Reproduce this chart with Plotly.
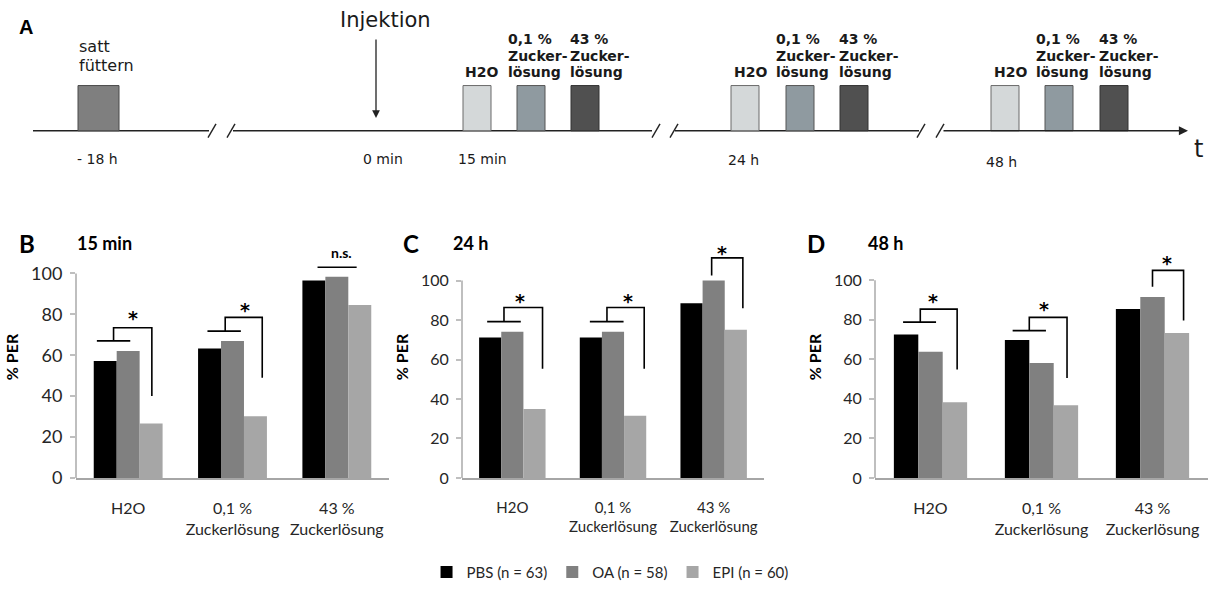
import plotly.graph_objects as go

# ---------------- data ----------------
categories = ["H2O", "0,1 %<br>Zuckerlösung", "43 %<br>Zuckerlösung"]
series_names = ["PBS (n = 63)", "OA (n = 58)", "EPI (n = 60)"]
series_colors = ["#000000", "#808080", "#a6a6a6"]

per_15min = {"PBS": [57.2, 63.3, 96.5], "OA": [62.0, 67.0, 98.4], "EPI": [26.6, 30.1, 84.6]}
per_24h = {"PBS": [71.1, 71.1, 88.5], "OA": [74.1, 74.1, 100.0], "EPI": [34.9, 31.5, 75.1]}
per_48h = {"PBS": [72.6, 69.8, 85.4], "OA": [63.8, 58.2, 91.5], "EPI": [38.3, 36.7, 73.3]}

y_ticks = [0, 20, 40, 60, 80, 100]

# timeline (panel A) labels
timeline_labels = ["- 18 h", "0 min", "15 min", "24 h", "48 h"]
stimulus_labels = ["H2O", "0,1 %", "43 %"]

W, H = 1208, 600


def X(px):
    return px / W


def Y(py):
    return 1 - py / H


fig = go.Figure()

panels = [
    dict(data=per_15min, xa="x", ya="y", dom=[76, 389], rng=118.3, letter="B", letter_x=17, title="15 min",
         title_x=75, fsize=16, ysize=18),
    dict(data=per_24h, xa="x2", ya="y2", dom=[462, 764], rng=122.6, letter="C", letter_x=401, title="24 h",
         title_x=451, fsize=15, ysize=16),
    dict(data=per_48h, xa="x3", ya="y3", dom=[875, 1208], rng=122.4, letter="D", letter_x=805, title="48 h",
         title_x=866, fsize=16, ysize=16),
]

keys = ["PBS", "OA", "EPI"]
for pi, p in enumerate(panels):
    for k, name, col in zip(keys, series_names, series_colors):
        fig.add_trace(go.Bar(
            x=categories, y=p["data"][k], name=name, marker=dict(color=col, line=dict(width=0)),
            xaxis=p["xa"], yaxis=p["ya"], showlegend=(pi == 0), offsetgroup=k,
        ))

layout = dict(
    width=W, height=H, margin=dict(l=0, r=0, t=0, b=0),
    paper_bgcolor="white", plot_bgcolor="white",
    barmode="group", bargap=0.34, bargroupgap=0,
    font=dict(family="Lato", color="#262626"),
    showlegend=True,
    legend=dict(orientation="h", x=0.505, xanchor="center", y=Y(582), yanchor="middle",
                font=dict(family="Lato", size=15, color="#262626"), itemsizing="constant",
                itemwidth=30, tracegroupgap=0),
)

ydom = [Y(486), Y(240)]
for i, p in enumerate(panels):
    sfx = "" if i == 0 else str(i + 1)
    layout["xaxis" + sfx] = dict(
        domain=[X(p["dom"][0]), min(1.0, X(p["dom"][1]))], anchor="y" + sfx,
        type="category", range=[-0.5, 2.5], showline=True, linecolor="#a6a6a6", linewidth=1.5,
        ticks="", showgrid=False, zeroline=False,
        tickfont=dict(family="Lato", size=p["fsize"], color="#262626"), ticklabelstandoff=15,
    )
    layout["yaxis" + sfx] = dict(
        domain=ydom, anchor="x" + sfx, range=[0, p["rng"]], showline=False,
        tickvals=y_ticks, ticks="outside", ticklen=5, tickcolor="#bfbfbf", tickwidth=1.5,
        showgrid=False, zeroline=False,
        tickfont=dict(family="Lato", size=p["ysize"], color="#262626"), ticklabelstandoff=4,
        title=dict(text="<b>% PER</b>", font=dict(family="Lato", size=16, color="#000"), standoff=8),
    )
fig.update_layout(**layout)

shapes = []
annotations = []

# y-axis lines (0..100) for bar panels
for i, p in enumerate(panels):
    sfx = "" if i == 0 else str(i + 1)
    shapes.append(dict(type="line", xref="x" + sfx + " domain", yref="y" + sfx, x0=0, x1=0, y0=0, y1=100,
                       line=dict(color="#bfbfbf", width=2)))

# significance brackets: (panel, category index, base y, base x0, base x1, mid x, top y, right x, bottom y, star x, star y)
brackets = [
    (0, 0, 67.0, -0.30, 0.02, -0.14, 73.4, 0.227, 40.0, 0.048, 80.0),
    (0, 1, 71.8, -0.24, 0.08, -0.07, 78.5, 0.285, 49.0, 0.12, 84.0),
    (1, 0, 79.2, -0.25, 0.084, -0.083, 86.4, 0.30, 55.3, 0.077, 91.8),
    (1, 1, 79.2, -0.23, 0.105, -0.06, 86.4, 0.31, 55.3, 0.15, 91.8),
    (2, 0, 78.8, -0.247, 0.05, -0.092, 85.4, 0.24, 54.9, 0.027, 91.7),
    (2, 1, 74.5, -0.26, 0.04, -0.11, 81.2, 0.23, 50.6, 0.024, 87.6),
]
# two-bar brackets: (panel, cat, left x, left bottom y, top y, right x, right bottom y, star x, star y)
brackets2 = [
    (1, 2, -0.02, 102.6, 111.5, 0.29, 86.0, 0.087, 115.9),
    (2, 2, 0.0, 96.7, 105.0, 0.28, 79.6, 0.135, 111.0),
]
bl = dict(color="#000000", width=1.6)
star_font = dict(family="DejaVu Sans", size=19, color="#000000")
for (pi, c, by, bx0, bx1, mx, ty, rx, ry, sx, sy) in brackets:
    sfx = "" if pi == 0 else str(pi + 1)
    xr, yr = "x" + sfx, "y" + sfx
    path = (f"M{c+bx0},{by} L{c+bx1},{by} M{c+mx},{by} L{c+mx},{ty} L{c+rx},{ty} L{c+rx},{ry}")
    shapes.append(dict(type="path", xref=xr, yref=yr, path=path, line=bl))
    annotations.append(dict(x=c + sx, y=sy, xref=xr, yref=yr, text="<b>*</b>", showarrow=False,
                            font=star_font, yshift=-4))
for (pi, c, lx, ly, ty, rx, ry, sx, sy) in brackets2:
    sfx = "" if pi == 0 else str(pi + 1)
    xr, yr = "x" + sfx, "y" + sfx
    path = f"M{c+lx},{ly} L{c+lx},{ty} L{c+rx},{ty} L{c+rx},{ry}"
    shapes.append(dict(type="path", xref=xr, yref=yr, path=path, line=bl))
    annotations.append(dict(x=c + sx, y=sy, xref=xr, yref=yr, text="<b>*</b>", showarrow=False,
                            font=star_font, yshift=-4))
# n.s. line in panel B
shapes.append(dict(type="line", xref="x", yref="y", x0=2 - 0.185, x1=2 + 0.19, y0=103, y1=103, line=bl))
annotations.append(dict(x=2.045, y=110, xref="x", yref="y", text="<b>n.s.</b>", showarrow=False,
                        font=dict(family="Lato", size=14, color="#000")))

# panel letters and titles
for p in panels:
    annotations.append(dict(x=X(p["letter_x"]), y=Y(248), xref="paper", yref="paper", xanchor="left", yanchor="middle",
                            text=f"<b>{p['letter']}</b>", showarrow=False,
                            font=dict(family="Lato", size=24, color="#000")))
    annotations.append(dict(x=X(p["title_x"]), y=Y(247), xref="paper", yref="paper", xanchor="left", yanchor="middle",
                            text=f"<b>{p['title']}</b>", showarrow=False,
                            font=dict(family="Lato", size=18, color="#000")))

# ---------------- panel A: timeline ----------------
tl_y = 133
line_style = dict(color="#222222", width=1.4)
for x0, x1 in [(33, 209), (233, 652), (675, 919)]:
    shapes.append(dict(type="line", xref="paper", yref="paper", x0=X(x0), x1=X(x1), y0=Y(tl_y), y1=Y(tl_y),
                       line=line_style))
for sx in [208, 227, 652, 670, 917, 936]:
    shapes.append(dict(type="line", xref="paper", yref="paper", x0=X(sx), x1=X(sx + 8), y0=Y(140), y1=Y(126),
                       line=line_style))
# final arrow segment (tail offset in pixels)
annotations.append(dict(x=X(1188), y=Y(tl_y), ax=942 - 1188, ay=0, xref="paper", yref="paper",
                        axref="pixel", ayref="pixel", text="", showarrow=True, arrowhead=2, arrowsize=1.3,
                        arrowwidth=1.4, arrowcolor="#222222"))
# injection arrow
annotations.append(dict(x=X(376), y=Y(120), ax=0, ay=40 - 120, xref="paper", yref="paper",
                        axref="pixel", ayref="pixel", text="", showarrow=True, arrowhead=2, arrowsize=1.2,
                        arrowwidth=1.3, arrowcolor="#222222"))

box_top, box_bot = 87, 133
shapes.append(dict(type="rect", xref="paper", yref="paper", x0=X(78), x1=X(119), y0=Y(box_bot), y1=Y(box_top),
                   fillcolor="#7f7f7f", line=dict(color="#4a4a4a", width=1)))
box_fills = ["#d4d8d9", "#8f9aa0", "#505050"]
box_lines = ["#6a6a6a", "#555555", "#333333"]
groups = [
    dict(boxes=[463, 517, 571], labels=[463, 506, 568]),
    dict(boxes=[731, 786, 840], labels=[732, 774, 837]),
    dict(boxes=[991, 1045, 1100], labels=[992, 1034, 1097]),
]
lab_font = dict(family="DejaVu Sans", size=14, color="#1a1a1a")
for g in groups:
    for bx, fc, lc in zip(g["boxes"], box_fills, box_lines):
        shapes.append(dict(type="rect", xref="paper", yref="paper", x0=X(bx), x1=X(bx + 28),
                           y0=Y(box_bot), y1=Y(box_top), fillcolor=fc, line=dict(color=lc, width=1)))
    lx = g["labels"]
    annotations.append(dict(x=X(lx[0]), y=Y(73), xref="paper", yref="paper", xanchor="left", yanchor="middle",
                            text=f"<b>{stimulus_labels[0]}</b>", showarrow=False, font=lab_font))
    for j in (1, 2):
        for txt, yy in [(stimulus_labels[j], 40), ("Zucker-", 56.5), ("lösung", 73)]:
            annotations.append(dict(x=X(lx[j]), y=Y(yy), xref="paper", yref="paper", xanchor="left",
                                    yanchor="middle", text=f"<b>{txt}</b>", showarrow=False, font=lab_font))

time_font = dict(family="DejaVu Sans", size=14, color="#1a1a1a")
for txt, lx, yy in zip(timeline_labels, [75, 361, 456, 726, 984], [162, 162, 162, 163, 165]):
    annotations.append(dict(x=X(lx), y=Y(yy), xref="paper", yref="paper", xanchor="left", yanchor="middle",
                            text=txt, showarrow=False, font=time_font))

annotations += [
    dict(x=X(77), y=Y(47), xref="paper", yref="paper", xanchor="left", yanchor="middle", text="satt",
         showarrow=False, font=dict(family="DejaVu Sans", size=16, color="#1a1a1a")),
    dict(x=X(77), y=Y(67), xref="paper", yref="paper", xanchor="left", yanchor="middle", text="füttern",
         showarrow=False, font=dict(family="DejaVu Sans", size=16, color="#1a1a1a")),
    dict(x=X(385), y=Y(20), xref="paper", yref="paper", xanchor="center", yanchor="middle", text="Injektion",
         showarrow=False, font=dict(family="DejaVu Sans", size=21, color="#1a1a1a")),
    dict(x=X(1192), y=Y(152), xref="paper", yref="paper", xanchor="left", yanchor="middle", text="t",
         showarrow=False, font=dict(family="DejaVu Sans", size=24, color="#1a1a1a")),
    dict(x=X(17), y=Y(27), xref="paper", yref="paper", xanchor="left", yanchor="middle", text="<b>A</b>",
         showarrow=False, font=dict(family="Liberation Sans", size=20, color="#000")),
]

fig.update_layout(shapes=shapes, annotations=annotations)
fig.write_html("out.html")
